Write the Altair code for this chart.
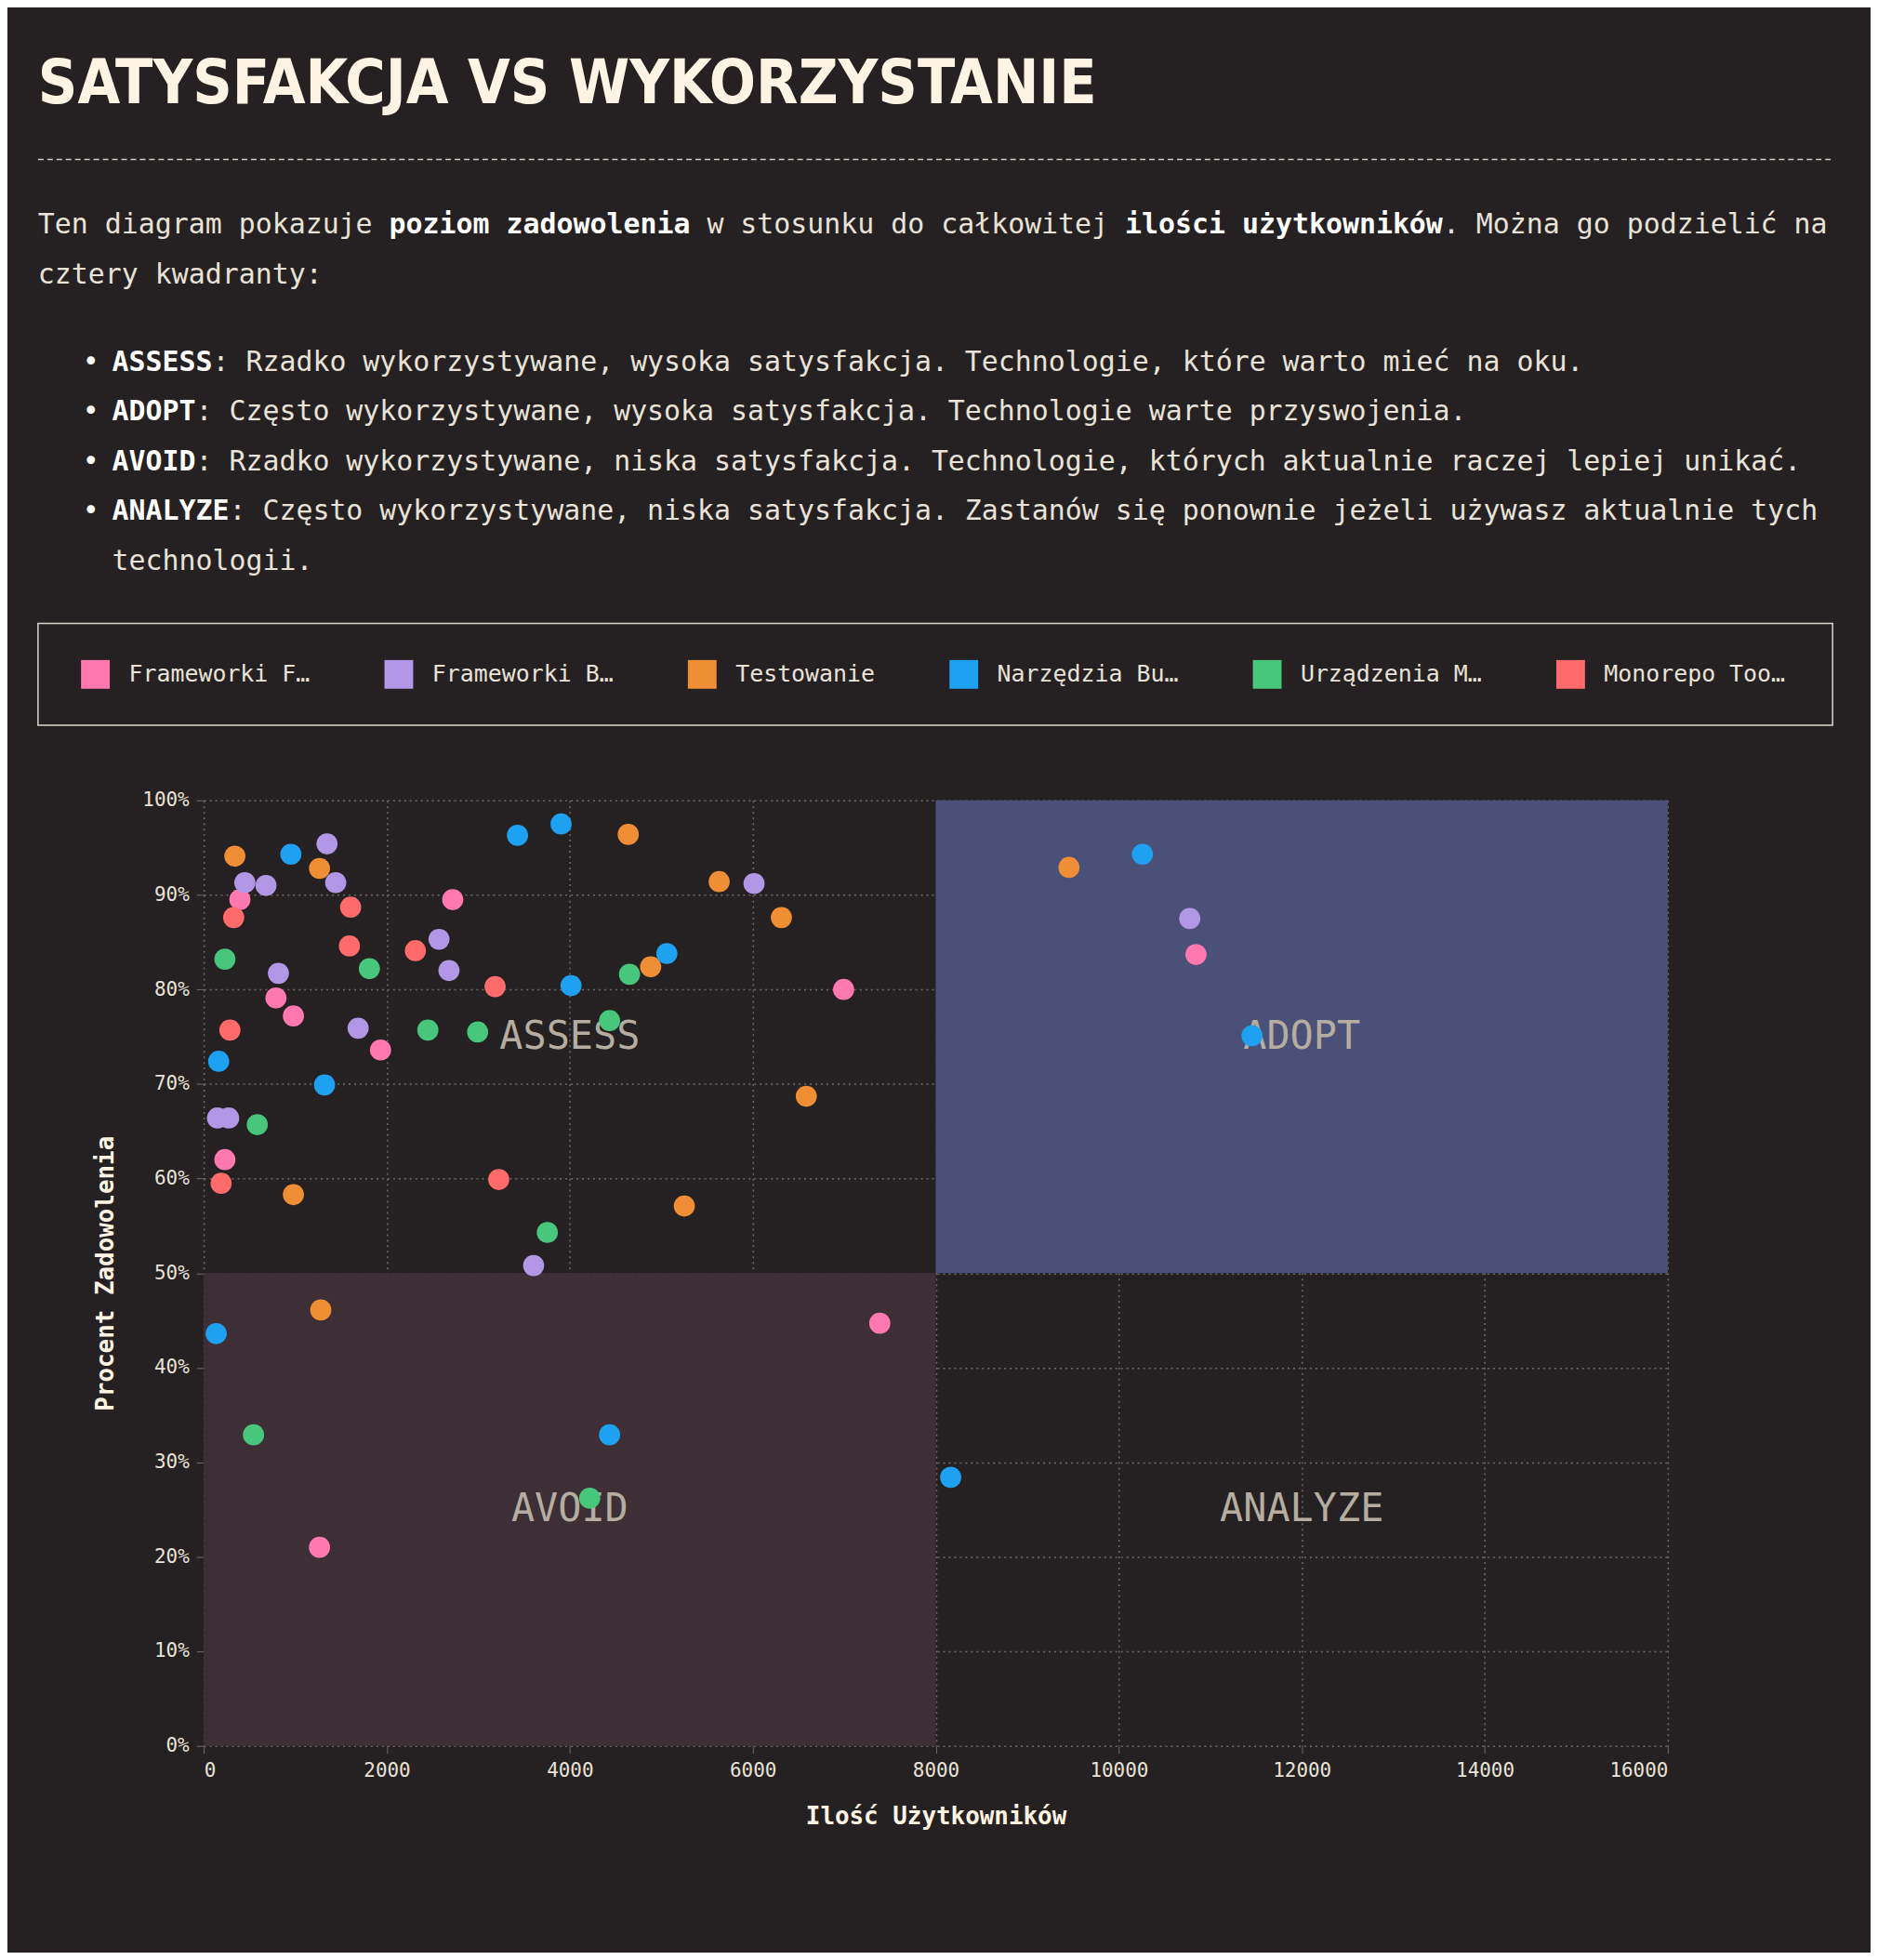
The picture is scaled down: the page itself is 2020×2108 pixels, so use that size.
import altair as alt
import pandas as pd

# categories and colours
series = ["Frameworki Frontendowe", "Frameworki Backendowe", "Testowanie",
          "Narzędzia Budowania", "Urządzenia Mobilne", "Monorepo Tools"]
colors = ["#ff79b0", "#b197e6", "#f08e35", "#1ea1f1", "#48c67c", "#ff6b6b"]

# values: (users, satisfaction)
front_x = [395, 789, 980, 231, 1932, 2721, 6993, 7388, 10844, 1265]
front_y = [0.895, 0.791, 0.772, 0.62, 0.736, 0.895, 0.80, 0.447, 0.837, 0.21]
back_x = [449, 680, 1347, 1442, 816, 150, 272, 1687, 2571, 2680, 6014, 3605, 10776]
back_y = [0.913, 0.91, 0.954, 0.913, 0.817, 0.664, 0.664, 0.759, 0.853, 0.82, 0.912, 0.508, 0.875]
test_x = [340, 1265, 980, 1279, 4639, 5633, 6313, 4884, 6585, 5252, 9456]
test_y = [0.941, 0.928, 0.583, 0.461, 0.964, 0.914, 0.876, 0.824, 0.687, 0.571, 0.929]
build_x = [952, 163, 1320, 3429, 3905, 4014, 5061, 136, 4435, 8163, 10259, 11456]
build_y = [0.943, 0.724, 0.699, 0.963, 0.975, 0.804, 0.838, 0.436, 0.329, 0.284, 0.943, 0.751]
mobile_x = [231, 1810, 585, 2449, 2993, 4435, 4653, 3755, 544, 4218]
mobile_y = [0.832, 0.822, 0.657, 0.757, 0.755, 0.767, 0.816, 0.543, 0.329, 0.262]
mono_x = [327, 286, 190, 1605, 1592, 2313, 3184, 3224]
mono_y = [0.876, 0.757, 0.595, 0.887, 0.846, 0.841, 0.803, 0.599]

xs = [front_x, back_x, test_x, build_x, mobile_x, mono_x]
ys = [front_y, back_y, test_y, build_y, mobile_y, mono_y]
rows = []
for name, sx, sy in zip(series, xs, ys):
    for a, b in zip(sx, sy):
        rows.append({"kategoria": name, "users": a, "sat": b})
points = pd.DataFrame(rows)

quadrants = pd.DataFrame({
    "x1": [0, 8000], "x2": [8000, 16000], "y1": [0, 0.5], "y2": [0.5, 1.0],
    "fill": ["#3e2f37", "#4a5078"],
})
quad_labels = pd.DataFrame({
    "label": ["ASSESS", "ADOPT", "AVOID", "ANALYZE"],
    "x": [4000, 12000, 4000, 12000], "y": [0.75, 0.75, 0.25, 0.25],
})

BG = "#252122"
TXT = "#e8e2d8"
MONO = "DejaVu Sans Mono"
W, H = 1581, 1021

xsc = alt.Scale(domain=[0, 16000], nice=False)
ysc = alt.Scale(domain=[0, 1])

quad = alt.Chart(quadrants).mark_rect().encode(
    x=alt.X("x1:Q", scale=xsc, title="Ilość Użytkowników",
            axis=alt.Axis(values=list(range(0, 16001, 2000)), format="d")),
    x2="x2:Q",
    y=alt.Y("y1:Q", scale=ysc, title="Procent Zadowolenia",
            axis=alt.Axis(values=[i / 10 for i in range(11)], format=".0%")),
    y2="y2:Q",
    color=alt.Color("fill:N", scale=None),
)

qtext = alt.Chart(quad_labels).mark_text(font=MONO, fontSize=42, color="#b5ada0").encode(
    x=alt.X("x:Q", scale=xsc), y=alt.Y("y:Q", scale=ysc), text="label:N"
)

dots = alt.Chart(points).mark_circle(size=520, opacity=1).encode(
    x=alt.X("users:Q", scale=xsc),
    y=alt.Y("sat:Q", scale=ysc),
    color=alt.Color("kategoria:N", scale=alt.Scale(domain=series, range=colors), legend=None),
)

layers = [quad, qtext, dots]

# header text (positions relative to plot area origin)
CW = 18.06
LX = -179
title = alt.Chart(pd.DataFrame({"t": ["SATYSFAKCJA VS WYKORZYSTANIE"]})).mark_text(
    font="DejaVu Sans Condensed, Liberation Sans Narrow, Roboto, sans-serif",
    fontSize=66, fontWeight="bold", color="#fff4e3",
    align="left", baseline="alphabetic"
).encode(x=alt.value(LX), y=alt.value(-753), text="t:N")
layers.append(title)

dash = alt.Chart(pd.DataFrame({"a": [0]})).mark_rule(
    color="#cfc9c0", strokeDash=[6, 4], strokeWidth=1.5
).encode(x=alt.value(LX), x2=alt.value(1759), y=alt.value(-692))
layers.append(dash)

para = [
    (-612, 0, [("Ten diagram pokazuje ", False), ("poziom zadowolenia", True),
               (" w stosunku do całkowitej ", False), ("ilości użytkowników", True),
               (". Można go podzielić na", False)]),
    (-558, 0, [("cztery kwadranty:", False)]),
    (-464, 80, [("ASSESS", True), (": Rzadko wykorzystywane, wysoka satysfakcja. Technologie, które warto mieć na oku.", False)]),
    (-410, 80, [("ADOPT", True), (": Często wykorzystywane, wysoka satysfakcja. Technologie warte przyswojenia.", False)]),
    (-356, 80, [("AVOID", True), (": Rzadko wykorzystywane, niska satysfakcja. Technologie, których aktualnie raczej lepiej unikać.", False)]),
    (-303, 80, [("ANALYZE", True), (": Często wykorzystywane, niska satysfakcja. Zastanów się ponownie jeżeli używasz aktualnie tych", False)]),
    (-249, 80, [("technologii.", False)]),
]
for py, indent, segs in para:
    col = 0
    for txt, bold in segs:
        lead = len(txt) - len(txt.lstrip(" "))
        layers.append(alt.Chart(pd.DataFrame({"t": [txt.strip(" ")]})).mark_text(
            font=MONO, fontSize=30, fontWeight="bold" if bold else "normal",
            color="#ffffff" if bold else TXT, align="left", baseline="alphabetic"
        ).encode(x=alt.value(LX + indent + (col + lead) * CW), y=alt.value(py), text="t:N"))
        col += len(txt)
for py in [-464, -410, -356, -303]:
    layers.append(alt.Chart(pd.DataFrame({"t": ["•"]})).mark_text(
        font=MONO, fontSize=30, color="#ffffff", align="left", baseline="alphabetic"
    ).encode(x=alt.value(LX + 48), y=alt.value(py), text="t:N"))

# legend box
box = alt.Chart(pd.DataFrame({"a": [0]})).mark_rect(
    fill=BG, stroke="#dcd6cc", strokeWidth=1.5
).encode(x=alt.value(LX), x2=alt.value(1759), y=alt.value(-191), y2=alt.value(-81))
layers.append(box)
LCW = 15.05
lx = LX + 46
for name, c in zip(series, colors):
    lab = name if len(name) <= 13 else name[:12] + "…"
    layers.append(alt.Chart(pd.DataFrame({"a": [0]})).mark_square(
        size=961, color=c, opacity=1
    ).encode(x=alt.value(lx + 16), y=alt.value(-136)))
    layers.append(alt.Chart(pd.DataFrame({"t": [lab]})).mark_text(
        font=MONO, fontSize=25, color=TXT, align="left", baseline="middle"
    ).encode(x=alt.value(lx + 52), y=alt.value(-136), text="t:N"))
    lx += 52 + len(lab) * LCW + 80

chart = alt.layer(*layers).properties(
    width=W, height=H, background=BG,
    padding={"left": 32, "top": 46, "right": 40, "bottom": 130},
).configure_view(stroke=None).configure_axis(
    labelFont=MONO, labelFontSize=21, labelColor=TXT,
    titleFont=MONO, titleFontSize=26, titleFontWeight="bold", titleColor="#fff4e3",
    grid=True, gridColor="#6e6869", gridDash=[2, 4], gridWidth=1.5,
    domain=False, tickColor="#6e6869", tickSize=8,
    labelPadding=8, titlePadding=26,
)

chart.save("out.html", embed_options={"renderer": "svg", "actions": False})
